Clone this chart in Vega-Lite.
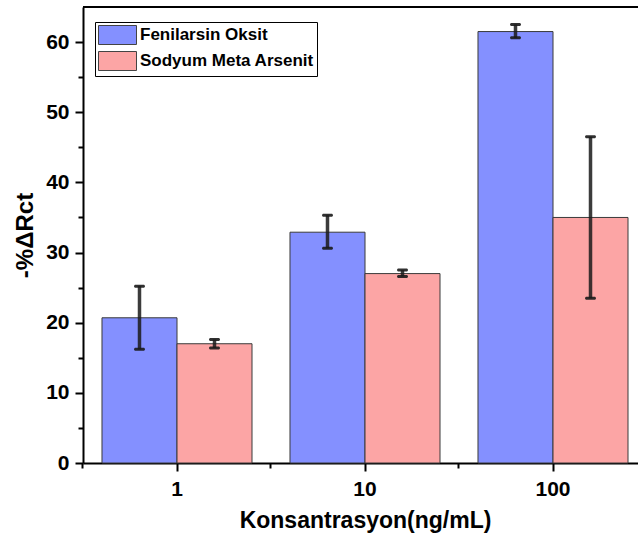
{
  "$schema": "https://vega.github.io/schema/vega-lite/v6.json",
  "width": 555,
  "height": 456,
  "autosize": {"type": "none"},
  "padding": {"left": 83, "top": 7, "right": 0, "bottom": 80},
  "config": {
    "view": {"stroke": null},
    "font": "Liberation Sans",
    "axis": {"grid": false, "domainColor": "black", "tickColor": "black", "domainWidth": 2, "tickWidth": 2, "labelFont": "Liberation Sans", "labelFontWeight": "bold", "labelColor": "black", "titleFont": "Liberation Sans", "titleFontWeight": "bold", "titleColor": "black"}
  },
  "data": {"values": [
    {"conc": "1", "series": "Fenilarsin Oksit", "mean": 20.7, "lo": 16.2, "hi": 25.2},
    {"conc": "1", "series": "Sodyum Meta Arsenit", "mean": 17.0, "lo": 16.4, "hi": 17.6},
    {"conc": "10", "series": "Fenilarsin Oksit", "mean": 32.9, "lo": 30.6, "hi": 35.3},
    {"conc": "10", "series": "Sodyum Meta Arsenit", "mean": 27.0, "lo": 26.6, "hi": 27.5},
    {"conc": "100", "series": "Fenilarsin Oksit", "mean": 61.5, "lo": 60.6, "hi": 62.5},
    {"conc": "100", "series": "Sodyum Meta Arsenit", "mean": 35.0, "lo": 23.5, "hi": 46.5}
  ]},
  "layer": [
    {
      "mark": {"type": "bar", "stroke": "#3a3a3a", "strokeWidth": 1},
      "encoding": {
        "x": {"field": "conc", "type": "nominal", "scale": {"range": [0, 564], "paddingInner": 0.202, "paddingOuter": 0.101}, "axis": {"orient": "bottom", "labelAngle": 0, "bandPosition": 0.5, "tickSize": 8, "labelFontSize": 21, "labelPadding": 7, "title": "Konsantrasyon(ng/mL)", "titleFontSize": 23, "titlePadding": 10}},
        "xOffset": {"field": "series", "type": "nominal", "scale": {"domain": ["Fenilarsin Oksit", "Sodyum Meta Arsenit"]}},
        "y": {"field": "mean", "type": "quantitative", "scale": {"domain": [0, 65], "nice": false}, "axis": {"orient": "left", "values": [0, 5, 10, 15, 20, 25, 30, 35, 40, 45, 50, 55, 60], "labelExpr": "datum.value % 10 == 0 ? datum.label : ''", "tickSize": {"condition": {"test": "datum.value % 10 != 0", "value": 5}, "value": 8}, "labelFontSize": 21, "labelPadding": 6, "title": "-%ΔRct", "titleFontSize": 24, "titlePadding": 8}},
        "color": {"field": "series", "type": "nominal", "scale": {"domain": ["Fenilarsin Oksit", "Sodyum Meta Arsenit"], "range": ["#8490ff", "#fca5a5"]}, "legend": {"orient": "none", "legendX": 12, "legendY": 15, "title": null, "strokeColor": "black", "fillColor": "white", "padding": 3, "labelFont": "Liberation Sans", "labelFontWeight": "bold", "labelFontSize": 17, "labelColor": "black", "labelOffset": 22, "labelLimit": 0, "rowPadding": 2, "symbolType": "M-1,-1H3V1H-1Z", "symbolSize": 361, "symbolStrokeColor": "#444", "symbolStrokeWidth": 1, "symbolOpacity": 1}}
      }
    },
    {
      "mark": {"type": "rule", "color": "#1a1a1a", "strokeWidth": 3.5, "opacity": 0.85},
      "encoding": {
        "x": {"field": "conc", "type": "nominal", "axis": {"orient": "bottom", "bandPosition": -0.12667, "ticks": true, "tickSize": 5, "tickColor": "black", "tickOpacity": 1, "labels": false, "domain": false, "title": null}},
        "xOffset": {"field": "series", "type": "nominal"},
        "y": {"field": "lo", "type": "quantitative", "axis": null},
        "y2": {"field": "hi"}
      }
    },
    {
      "mark": {"type": "tick", "color": "#1a1a1a", "size": 11, "thickness": 3, "opacity": 0.9, "cornerRadius": 1.5},
      "encoding": {
        "x": {"field": "conc", "type": "nominal", "axis": null},
        "xOffset": {"field": "series", "type": "nominal"},
        "y": {"field": "lo", "type": "quantitative", "axis": null}
      }
    },
    {
      "mark": {"type": "tick", "color": "#1a1a1a", "size": 11, "thickness": 3, "opacity": 0.9, "cornerRadius": 1.5},
      "encoding": {
        "x": {"field": "conc", "type": "nominal", "axis": null},
        "xOffset": {"field": "series", "type": "nominal"},
        "y": {"field": "hi", "type": "quantitative", "axis": null}
      }
    },
    {
      "mark": {"type": "rule", "color": "black", "strokeWidth": 2},
      "encoding": {"y": {"datum": 65, "type": "quantitative", "axis": null}}
    }
  ],
  "resolve": {"axis": {"x": "independent", "y": "independent"}}
}
